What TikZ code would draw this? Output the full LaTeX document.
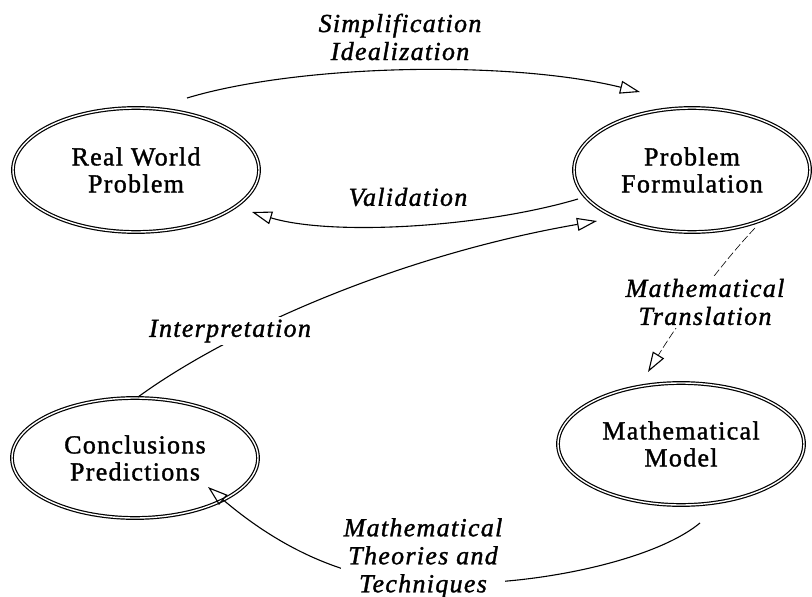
\documentclass[tikz,border=0pt]{standalone}
\usepackage{fontspec}
\setmainfont{Liberation Serif}[LetterSpace=5, FakeBold=1.3]
\usetikzlibrary{arrows.meta,shapes.geometric}
\tikzset{
  stage/.style={ellipse, draw, line width=1.2pt, double, double distance=1.4pt,
    inner sep=0pt, align=center, font=\fontsize{26}{27}\selectfont},
  lab/.style={align=center, font=\fontsize{26}{28}\selectfont\itshape, inner sep=3pt},
  labw/.style={lab, fill=white},
  flow/.style={line width=1.1pt, -{Triangle[open, length=20pt, width=13pt, line width=1.1pt]}},
  flowthin/.style={flow, line width=0.6pt, dash pattern=on 8pt off 3pt}
}
\begin{document}
\begin{tikzpicture}[x=1pt,y=-1pt]
\useasboundingbox (0,0) rectangle (812,597);
% stages
\node[stage, minimum width=246pt, minimum height=124pt] (rw) at (136,170) {Real World\\Problem};
\node[stage, minimum width=236pt, minimum height=124pt] (pf) at (692,170) {Problem\\Formulation};
\node[stage, minimum width=246pt, minimum height=122pt] (mm) at (681,444) {Mathematical\\Model};
\node[stage, minimum width=246pt, minimum height=120pt] (cp) at (135,458) {Conclusions\\Predictions};
% connector end points
\coordinate (s1) at (187,98);   \coordinate (e1) at (640,92);
\coordinate (s2) at (578,199);  \coordinate (e2) at (252,212);
\coordinate (s3) at (138,397);  \coordinate (e3) at (597,221);
\coordinate (s4) at (755,228);  \coordinate (e4) at (648,372);
\coordinate (s5) at (700,523);  \coordinate (m5) at (470,583); \coordinate (e5) at (208,487);
% connectors
\draw[flow] (s1) .. controls (300,64) and (510,60) .. (e1);
\draw[flow] (s2) .. controls (480,228) and (330,236) .. (e2);
\draw[flow] (s3) .. controls (230,330) and (400,255) .. (e3);
\draw[flowthin] (s4) .. controls (720,265) and (680,320) .. (e4);
\draw[flow] (s5) .. controls (655,560) and (545,582) .. (m5)
  .. controls (380,590) and (300,565) .. (e5);
% labels
\node[lab] (l1) at (400,37) {Simplification\\Idealization};
\node[lab] (l2) at (408,197) {Validation};
\node[labw] (l3) at (230,331) {Interpretation};
\node[labw] (l4) at (705,302) {Mathematical\\Translation};
\node[labw] (l5) at (423,558) {Mathematical\\Theories and\\Techniques};
\end{tikzpicture}
\end{document}
